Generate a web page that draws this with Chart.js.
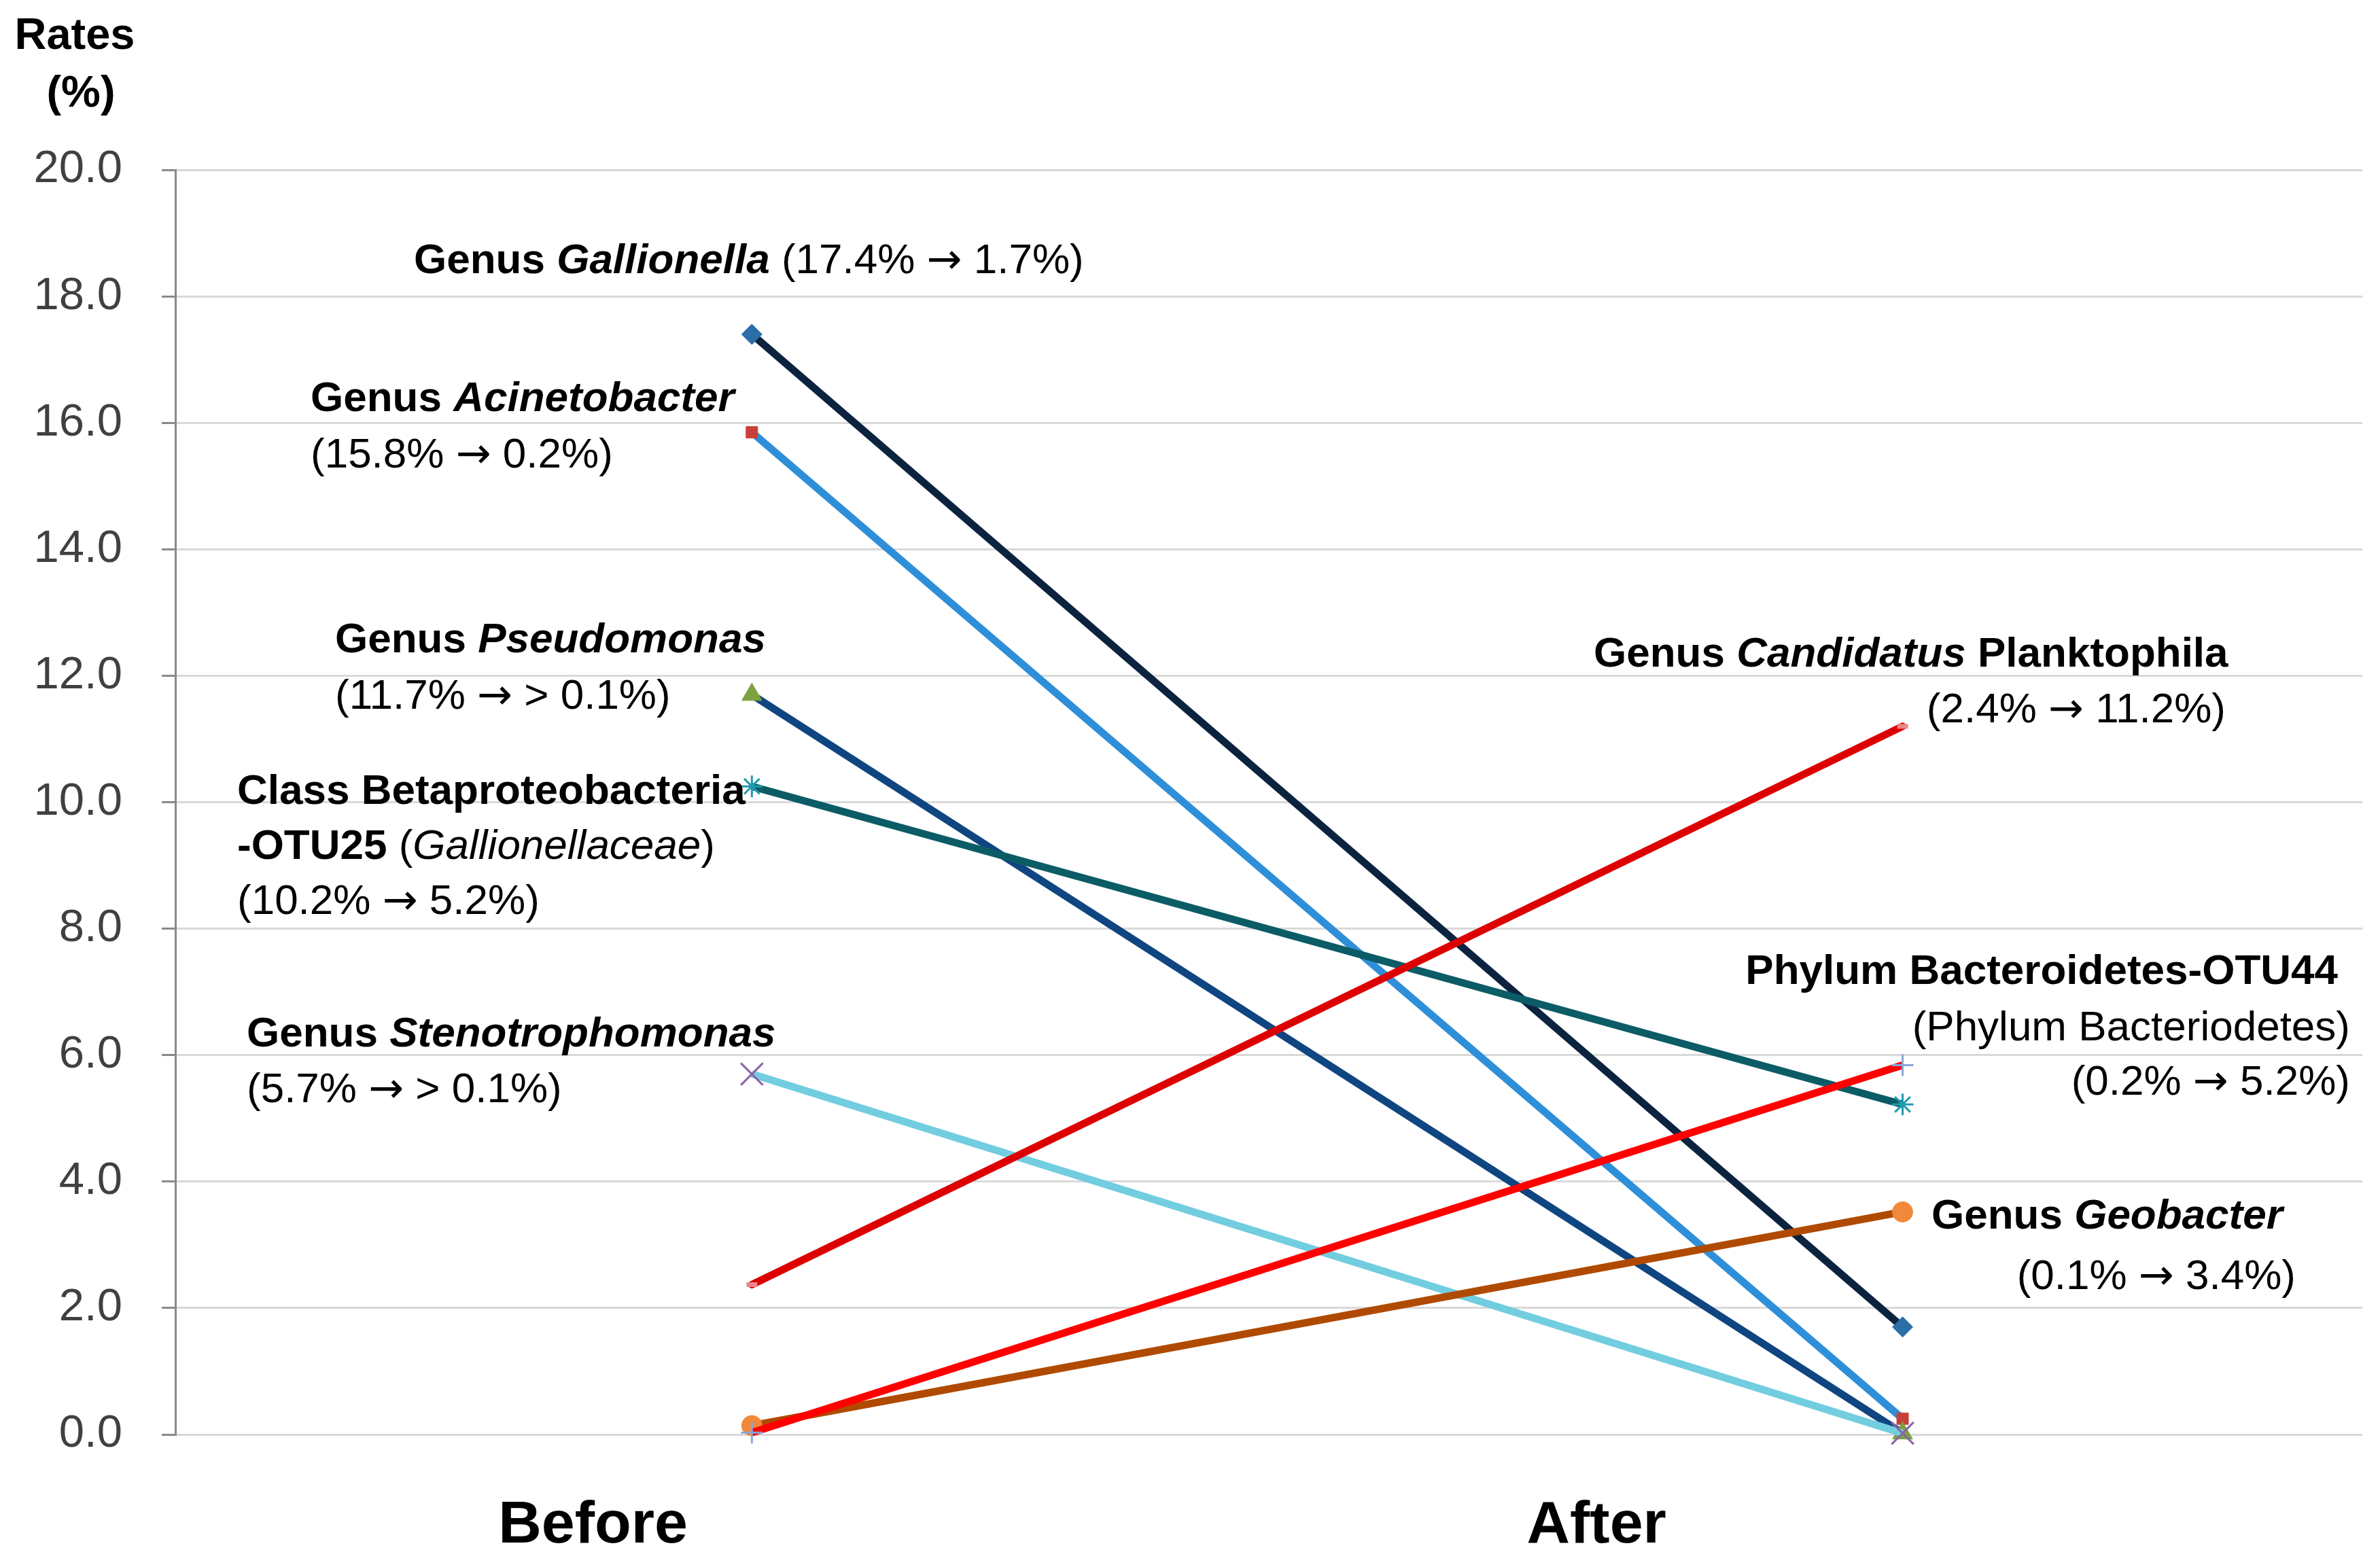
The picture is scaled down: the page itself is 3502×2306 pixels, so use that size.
<!DOCTYPE html>
<html>
<head>
<meta charset="utf-8">
<script src="https://cdn.jsdelivr.net/npm/chart.js@4.4.1/dist/chart.umd.min.js"></script>
<style>
  html, body { margin: 0; padding: 0; background: #ffffff; }
  #wrap { width: 3502px; height: 2306px; }
</style>
</head>
<body>
<div id="wrap"><canvas id="grafico"></canvas></div>
<script>
// Dados (Before -> After, em %)
const categories = ['Before', 'After'];
const yTickLabels = ['0.0', '2.0', '4.0', '6.0', '8.0', '10.0', '12.0', '14.0', '16.0', '18.0', '20.0'];

const gallionella = [17.4, 1.7];
const acinetobacter = [15.85, 0.25];
const pseudomonas = [11.7, 0.02];
const betaproteobacteria = [10.25, 5.22];
const stenotrophomonas = [5.7, 0.02];
const candidatus = [2.37, 11.2];
const bacteroidetes = [0.03, 5.84];
const geobacter = [0.14, 3.52];

const FONT = '"Liberation Sans", Arial, sans-serif';
const ARROW_FONT = '"DejaVu Sans", sans-serif';

// estilo de cada série: cor da linha, marcador
const series = [
  { label: 'Gallionella', data: gallionella, line: '#0c2340', mark: '#2b6ea8', style: 'rectRot', r: 15, order: 8 },
  { label: 'Acinetobacter', data: acinetobacter, line: '#2e8fd8', mark: '#c8403c', style: 'rect', r: 12, order: 7 },
  { label: 'Pseudomonas', data: pseudomonas, line: '#0f4580', mark: '#7ba23f', style: 'triangle', r: 17, order: 6 },
  { label: 'Betaproteobacteria-OTU25', data: betaproteobacteria, line: '#0b5c66', mark: '#1f9bb0', style: 'star', r: 16, order: 5 },
  { label: 'Stenotrophomonas', data: stenotrophomonas, line: '#72cde0', mark: '#8a63a8', style: 'crossRot', r: 23, order: 4 },
  { label: 'Candidatus Planktophila', data: candidatus, line: '#dd0000', mark: '#e8878a', style: 'line', r: 8, order: 3 },
  { label: 'Geobacter', data: geobacter, line: '#b04a00', mark: '#f08a3a', style: 'circle', r: 15, order: 2 },
  { label: 'Bacteroidetes-OTU44', data: bacteroidetes, line: '#ff0000', mark: '#8aa6d8', style: 'cross', r: 16, order: 1 }
];

const datasets = series.map(s => {
  const thin = ['star', 'crossRot', 'cross', 'line'].includes(s.style);
  return {
    label: s.label,
    data: s.data.map((v, i) => ({ x: i, y: v })),
    borderColor: s.line,
    borderWidth: 11,
    borderCapStyle: s.style === 'line' ? 'round' : 'butt',
    pointStyle: s.style,
    pointRadius: s.r,
    pointBackgroundColor: s.mark,
    pointBorderColor: s.mark,
    pointBorderWidth: s.style === 'line' ? 7 : (thin ? 3 : 1),
    tension: 0,
    clip: false,
    order: s.order
  };
});

// textos das anotações: b = negrito, i = itálico, a = seta
const AR = { t: '\u2192', a: 1 };
const notes = [
  { x: 609, align: 'left', lines: [
    { y: 402, runs: [{ t: 'Genus ', b: 1 }, { t: 'Gallionella', b: 1, i: 1 }, { t: ' (17.4% ' }, AR, { t: ' 1.7%)' }] }
  ]},
  { x: 457, align: 'left', lines: [
    { y: 605, runs: [{ t: 'Genus ', b: 1 }, { t: 'Acinetobacter', b: 1, i: 1 }] },
    { y: 688, runs: [{ t: '(15.8% ' }, AR, { t: ' 0.2%)' }] }
  ]},
  { x: 493, align: 'left', lines: [
    { y: 960, runs: [{ t: 'Genus ', b: 1 }, { t: 'Pseudomonas', b: 1, i: 1 }] },
    { y: 1043, runs: [{ t: '(11.7% ' }, AR, { t: ' > 0.1%)' }] }
  ]},
  { x: 349, align: 'left', lines: [
    { y: 1183, runs: [{ t: 'Class Betaproteobacteria', b: 1 }] },
    { y: 1264, runs: [{ t: '-OTU25', b: 1 }, { t: ' (' }, { t: 'Gallionellaceae', i: 1 }, { t: ')' }] },
    { y: 1345, runs: [{ t: '(10.2% ' }, AR, { t: ' 5.2%)' }] }
  ]},
  { x: 363, align: 'left', lines: [
    { y: 1540, runs: [{ t: 'Genus ', b: 1 }, { t: 'Stenotrophomonas', b: 1, i: 1 }] },
    { y: 1622, runs: [{ t: '(5.7% ' }, AR, { t: ' > 0.1%)' }] }
  ]},
  { x: 2345, align: 'left', lines: [
    { y: 981, runs: [{ t: 'Genus ', b: 1 }, { t: 'Candidatus', b: 1, i: 1 }, { t: ' Planktophila', b: 1 }] }
  ]},
  { x: 3275, align: 'right', lines: [
    { y: 1063, runs: [{ t: '(2.4% ' }, AR, { t: ' 11.2%)' }] }
  ]},
  { x: 3440, align: 'right', lines: [
    { y: 1448, runs: [{ t: 'Phylum Bacteroidetes-OTU44', b: 1 }] }
  ]},
  { x: 3458, align: 'right', lines: [
    { y: 1531, runs: [{ t: '(Phylum Bacteriodetes)' }] },
    { y: 1611, runs: [{ t: '(0.2% ' }, AR, { t: ' 5.2%)' }] }
  ]},
  { x: 2842, align: 'left', lines: [
    { y: 1808, runs: [{ t: 'Genus ', b: 1 }, { t: 'Geobacter', b: 1, i: 1 }] }
  ]},
  { x: 3378, align: 'right', lines: [
    { y: 1897, runs: [{ t: '(0.1% ' }, AR, { t: ' 3.4%)' }] }
  ]}
];

const NOTE_SIZE = 62;

function fontFor(run, size) {
  if (run.a) return size + 'px ' + ARROW_FONT;
  return (run.i ? 'italic ' : '') + (run.b ? 'bold ' : '') + size + 'px ' + FONT;
}

function drawRuns(ctx, runs, x, y, align, size) {
  let total = 0;
  runs.forEach(r => { ctx.font = fontFor(r, size); total += ctx.measureText(r.t).width; });
  let cx = align === 'right' ? x - total : x;
  runs.forEach(r => {
    ctx.font = fontFor(r, size);
    ctx.fillText(r.t, cx, y);
    cx += ctx.measureText(r.t).width;
  });
}

const textosPlugin = {
  id: 'textos',
  afterDraw(chart) {
    const ctx = chart.ctx;
    ctx.save();
    ctx.fillStyle = '#000000';
    ctx.textBaseline = 'alphabetic';
    // título do eixo
    ctx.textAlign = 'center';
    ctx.font = 'bold 65px ' + FONT;
    ctx.fillText('Rates', 110, 72);
    ctx.fillText('(%)', 119, 157);
    ctx.textAlign = 'left';
    notes.forEach(n => {
      n.lines.forEach(l => drawRuns(ctx, l.runs, n.x, l.y, n.align, NOTE_SIZE));
    });
    ctx.restore();
  }
};

const xLabelAt = [-0.138, 0.734];

new Chart(document.getElementById('grafico'), {
  type: 'line',
  data: { datasets },
  plugins: [textosPlugin],
  options: {
    responsive: true,
    maintainAspectRatio: false,
    animation: false,
    devicePixelRatio: 1,
    layout: { padding: { top: 250, left: 0, right: 0, bottom: 0 } },
    plugins: { legend: { display: false }, tooltip: { enabled: false }, title: { display: false } },
    scales: {
      x: {
        type: 'linear',
        min: -0.501,
        max: 1.3995,
        offset: false,
        afterBuildTicks(scale) {
          scale.ticks = xLabelAt.map(v => ({ value: v }));
        },
        afterFit(scale) { scale.height = 195; },
        ticks: {
          autoSkip: false,
          maxRotation: 0,
          padding: 82,
          color: '#000000',
          font: { family: FONT, size: 88, weight: 'bold' },
          callback: (v, i) => categories[i]
        },
        grid: { display: false, drawTicks: false },
        border: { display: false }
      },
      y: {
        min: 0,
        max: 20,
        afterBuildTicks(scale) {
          scale.ticks = yTickLabels.map(t => ({ value: parseFloat(t) }));
        },
        afterFit(scale) { scale.width = 258; },
        ticks: {
          padding: 58,
          color: '#404040',
          font: { family: FONT, size: 67 },
          callback: (v, i) => yTickLabels[i]
        },
        grid: { color: '#d9d9d9', lineWidth: 3, tickLength: 20, tickColor: '#898989', tickWidth: 3 },
        border: { color: '#898989', width: 3 }
      }
    }
  }
});
</script>
</body>
</html>
